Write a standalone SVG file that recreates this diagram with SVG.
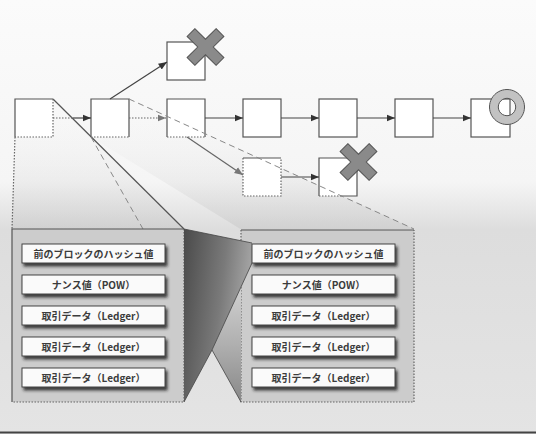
<svg xmlns="http://www.w3.org/2000/svg" width="536" height="434" viewBox="0 0 536 434">
<defs>
<style>
.box{fill:#fff;stroke:none}
.sl{stroke:#555;stroke-width:1.2;fill:none}
.dl{stroke:#666;stroke-width:1.2;fill:none;stroke-dasharray:1.5 1.5}
.dash{stroke:#888;stroke-width:1;fill:none;stroke-dasharray:6 4}
.arr{stroke:#444;stroke-width:1.2;fill:none}
.row{fill:#fafafa;stroke:#444;stroke-width:1}
.txt{font-family:"Noto Sans CJK JP","Noto Sans",sans-serif;font-size:10px;font-weight:bold;fill:#3c3c3c;text-anchor:middle;dominant-baseline:central}
.panel{fill:#cccccc}
.xm{fill:#8a8a8a;stroke:#555;stroke-width:1}
</style>
<linearGradient id="bg" x1="0" y1="0" x2="0" y2="434" gradientUnits="userSpaceOnUse">
<stop offset="0" stop-color="#fbfbfb"/>
<stop offset="0.42" stop-color="#f5f5f5"/>
<stop offset="0.53" stop-color="#dddddd"/>
<stop offset="1" stop-color="#e4e4e4"/>
</linearGradient>
<linearGradient id="cone" x1="0" y1="0" x2="0" y2="1">
<stop offset="0" stop-color="#ffffff" stop-opacity="0"/>
<stop offset="1" stop-color="#c4c4c4" stop-opacity="0.5"/>
</linearGradient>
<linearGradient id="dark" x1="0" y1="0" x2="1" y2="0.3">
<stop offset="0" stop-color="#4a4a4a"/>
<stop offset="0.6" stop-color="#7a7a7a"/>
<stop offset="1" stop-color="#a8a8a8"/>
</linearGradient>
<linearGradient id="mid" x1="0" y1="0" x2="0" y2="1">
<stop offset="0" stop-color="#d2d2d2"/>
<stop offset="0.5" stop-color="#b0b0b0"/>
<stop offset="1" stop-color="#888"/>
</linearGradient>
<filter id="sh" x="-10%" y="-30%" width="130%" height="190%">
<feDropShadow dx="2" dy="3" stdDeviation="1.8" flood-color="#222" flood-opacity="0.85"/>
</filter>
<marker id="ah" markerWidth="9" markerHeight="8" refX="8.5" refY="4" orient="auto" markerUnits="userSpaceOnUse">
<path d="M0,0.5 L8.5,4 L0,7.5 Z" fill="#333"/>
</marker>
<marker id="ahg" markerWidth="9" markerHeight="8" refX="8.5" refY="4" orient="auto" markerUnits="userSpaceOnUse">
<path d="M0,0.5 L8.5,4 L0,7.5 Z" fill="#777"/>
</marker>
<path id="xshape" d="M-5.5,-20.5 H5.5 V-5.5 H20.5 V5.5 H5.5 V20.5 H-5.5 V5.5 H-20.5 V-5.5 H-5.5 Z"/>
</defs>

<rect x="0" y="0" width="536" height="434" fill="url(#bg)"/>

<!-- projection cones -->
<g id="cones">
<polygon points="91,137 129,99 414,229 242,230" fill="url(#cone)"/>
<polygon points="15,137 53,99 184,229 12,229" fill="url(#cone)"/>
</g>

<!-- projection lines -->
<g id="projection">
<line class="dl" x1="15" y1="137" x2="12" y2="229"/>
<line class="sl" x1="53" y1="99" x2="184" y2="229"/>
<line class="dash" x1="91" y1="137" x2="143" y2="229"/>
</g>

<!-- chain blocks -->
<g id="block1"><rect class="box" x="15" y="99" width="38" height="38"/><path class="sl" d="M15,137 V99 H53"/><path class="dl" d="M53,99 V137 H15"/></g>
<g id="block2"><rect class="box" x="91" y="99" width="38" height="38"/><path class="sl" d="M91,137 V99 H129 V137"/><path class="dl" d="M91,137 H129"/></g>
<g id="block3"><rect class="box" x="167" y="99" width="38" height="38"/><path class="sl" d="M167,137 V99 H205 V137"/><path class="dl" d="M167,137 H205"/></g>
<g id="block4"><rect class="box" x="243" y="99" width="38" height="38"/><rect class="sl" x="243" y="99" width="38" height="38"/></g>
<g id="block5"><rect class="box" x="319" y="99" width="38" height="38"/><rect class="sl" x="319" y="99" width="38" height="38"/></g>
<g id="block6"><rect class="box" x="395" y="99" width="38" height="38"/><rect class="sl" x="395" y="99" width="38" height="38"/></g>
<g id="block7"><rect class="box" x="471" y="99" width="39" height="38"/><rect class="sl" x="471" y="99" width="39" height="38"/>
<path d="M507,89.5 a17.5,17.5 0 1 0 0.01,0 Z M507,98.3 a8.7,8.7 0 1 1 -0.01,0 Z" fill="#c2c2c2" fill-rule="evenodd" stroke="#555" stroke-width="1"/>
</g>
<g id="forkTop"><rect class="box" x="167" y="42" width="38" height="38"/><rect class="sl" x="167" y="42" width="38" height="38"/>
<use href="#xshape" class="xm" transform="translate(205.5,47) rotate(45)"/></g>
<g id="forkLow1"><rect class="box" x="243" y="158" width="38" height="38"/><path class="sl" d="M243,158 H281"/><path class="dl" d="M243,158 V196 H281 V158"/></g>
<g id="forkLow2"><rect class="box" x="319" y="158" width="38" height="38"/><path class="sl" d="M319,196 V158 H357 V196 H340"/><path class="dl" d="M319,196 H340"/>
<use href="#xshape" class="xm" transform="translate(358.5,162) rotate(45)"/></g>

<!-- connectors -->
<g id="connectors">
<line class="dl" x1="53" y1="118" x2="74" y2="118"/>
<line class="arr" x1="73" y1="118" x2="91" y2="118" marker-end="url(#ah)"/>
<line class="dl" x1="129" y1="118" x2="166" y2="118" marker-end="url(#ahg)"/>
<line class="arr" x1="205" y1="118" x2="243" y2="118" marker-end="url(#ah)"/>
<line class="arr" x1="281" y1="118" x2="319" y2="118" marker-end="url(#ah)"/>
<line class="arr" x1="357" y1="118" x2="395" y2="118" marker-end="url(#ah)"/>
<line class="arr" x1="433" y1="118" x2="471" y2="118" marker-end="url(#ah)"/>
<line class="arr" x1="110" y1="99" x2="167" y2="62" marker-end="url(#ah)"/>
<line x1="187" y1="137" x2="243" y2="175" stroke="#666" stroke-width="1.2" marker-end="url(#ahg)"/>
<line class="arr" x1="281" y1="177" x2="319" y2="177" marker-end="url(#ah)"/>
<line class="dash" x1="129" y1="99" x2="414" y2="229"/>
</g>

<!-- left panel -->
<g id="panelLeft">
<rect class="panel" x="12" y="229" width="172" height="173"/>
<path class="sl" d="M12,402 V229 H184"/>
<path class="dl" d="M184,229 V402 H12"/>
</g>

<!-- right panel -->
<g id="panelRight">
<rect class="panel" x="241" y="230" width="173" height="172"/>
<path class="sl" d="M241,230 H414"/>
<path class="dl" d="M241,230 V402 H414 V230"/>
</g>

<!-- link between panels -->
<g id="link">
<polygon points="241,285 212,350 241,402" fill="url(#mid)"/>
<polygon points="184,229 252,243 252,263 212,350 184,402" fill="url(#dark)"/>
<path d="M184,229 L252,243 M252,263 L212,350 L184,402 M212,350 L241,402" stroke="#444" stroke-width="0.8" fill="none"/>
</g>

<!-- rows -->
<g id="rowsLeft">
<g filter="url(#sh)">
<rect class="row" x="22" y="244" width="143" height="19"/>
<rect class="row" x="22" y="275" width="143" height="19"/>
<rect class="row" x="22" y="306" width="143" height="19"/>
<rect class="row" x="22" y="337" width="143" height="19"/>
<rect class="row" x="22" y="368" width="143" height="19"/>
</g>
<text class="txt" x="93.5" y="253.5">前のブロックのハッシュ値</text>
<text class="txt" x="93.5" y="284.5">ナンス値（POW）</text>
<text class="txt" x="93.5" y="315.5">取引データ（Ledger）</text>
<text class="txt" x="93.5" y="346.5">取引データ（Ledger）</text>
<text class="txt" x="93.5" y="377.5">取引データ（Ledger）</text>
</g>
<g id="rowsRight">
<g filter="url(#sh)">
<rect class="row" x="252" y="244" width="143" height="19"/>
<rect class="row" x="252" y="275" width="143" height="19"/>
<rect class="row" x="252" y="306" width="143" height="19"/>
<rect class="row" x="252" y="337" width="143" height="19"/>
<rect class="row" x="252" y="368" width="143" height="19"/>
</g>
<text class="txt" x="323.5" y="253.5">前のブロックのハッシュ値</text>
<text class="txt" x="323.5" y="284.5">ナンス値（POW）</text>
<text class="txt" x="323.5" y="315.5">取引データ（Ledger）</text>
<text class="txt" x="323.5" y="346.5">取引データ（Ledger）</text>
<text class="txt" x="323.5" y="377.5">取引データ（Ledger）</text>
</g>

<line x1="0" y1="432.5" x2="536" y2="432.5" stroke="#444" stroke-width="2"/>
</svg>
